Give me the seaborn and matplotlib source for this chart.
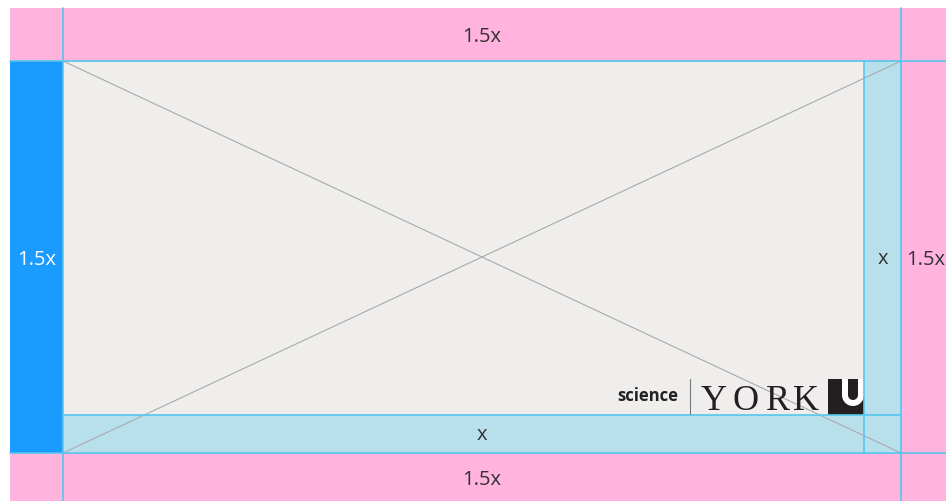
import matplotlib
matplotlib.use("Agg")
import matplotlib.pyplot as plt
import seaborn as sns
import pandas as pd
from matplotlib.patches import Rectangle, Circle

# band labels (spacing rule in units of x)
top_label = "1.5x"
left_label = "1.5x"
right_label = "1.5x"
bottom_label = "1.5x"
inner_label = "x"
logo_word = "science"
logo_letters = ["Y", "O", "R", "K"]

# colours
pink = "#ffb3dd"
blue = "#1a9bff"
light_blue = "#b8e0ec"
grey = "#efeeec"
guide = "#55c6ee"
ink = "#231f20"

sns.set_theme(style="white")
plt.rcParams['font.family'] = ['Open Sans', 'DejaVu Sans']

W, H = 946, 501
fig = plt.figure(figsize=(W / 100, H / 100), dpi=100)
ax = fig.add_axes([0, 0, 1, 1])

# frame edges in pixels
x0, x1, x2, x3 = 10, 63, 864, 901
y0, y1, y2, y3 = 8, 61, 415, 453

def box(x, y, w, h, c):
    ax.add_patch(Rectangle((x, y), w, h, facecolor=c, edgecolor="none"))

box(x0, y0, W - x0, y1 - y0, pink)
box(x0, y3, W - x0, H - y3, pink)
box(x3, y1, W - x3, y3 - y1, pink)
box(x0, y1, x1 - x0, y3 - y1, blue)
box(x1, y1, x2 - x1, y2 - y1, grey)
box(x1, y2, x3 - x1, y3 - y2, light_blue)
box(x2, y1, x3 - x2, y2 - y1, light_blue)

# diagonals of the placeholder
diag = pd.DataFrame({"x": [x1, x3, x1, x3], "y": [y1, y3, y3, y1], "d": ["a", "a", "b", "b"]})
sns.lineplot(data=diag, x="x", y="y", units="d", estimator=None, color="#aaaaaa",
             lw=0.8, ax=ax, legend=False, sort=False)
ax.set_xlim(0, W)
ax.set_ylim(H, 0)
ax.axis("off")

# guide lines
kw = dict(color=guide, lw=1.2)
ax.plot([x1, x1], [y0, H], **kw)
ax.plot([x3, x3], [y0, H], **kw)
ax.plot([x2, x2], [y1, y3], **kw)
ax.plot([x0, W], [y1, y1], **kw)
ax.plot([x0, W], [y3, y3], **kw)
ax.plot([x1, x3], [y2, y2], **kw)

tk = dict(ha="center", va="center", fontsize=14.5, color="#333333")
ax.text((x1 + x3) / 2, (y0 + y1) / 2 + 2, top_label, **tk)
ax.text((x1 + x3) / 2, (y3 + H) / 2 + 3, bottom_label, **tk)
ax.text((x3 + W) / 2 + 2, (y1 + y3) / 2 + 3, right_label, **tk)
ax.text((x0 + x1) / 2, (y1 + y3) / 2 + 3, left_label, **{**tk, "color": "white"})
ax.text((x2 + x3) / 2, (y1 + y3) / 2 + 2, inner_label, **tk)
ax.text((x1 + x3) / 2, (y2 + y3) / 2 + 1, inner_label, **tk)

# logo
ax.text(648, 396, logo_word, ha="center", va="center", fontsize=12,
        fontweight="bold", color="#222222")
ax.plot([690, 690], [379, 414], color="#777777", lw=0.8)
for lx, letter in zip([714, 746, 778, 806], logo_letters):
    ax.text(lx, 410.5, letter, ha="center", va="baseline", fontsize=26,
            family=["Liberation Serif", "DejaVu Serif"], color=ink)
box(828, 379, 36, 36, ink)
box(842, 379, 22, 16, "white")
ax.add_patch(Circle((853, 395), 11, facecolor="white", edgecolor="none"))
box(848, 379, 10, 16, ink)
ax.add_patch(Circle((853, 395), 5, facecolor=ink, edgecolor="none"))

fig.savefig("out.png", dpi=100)
